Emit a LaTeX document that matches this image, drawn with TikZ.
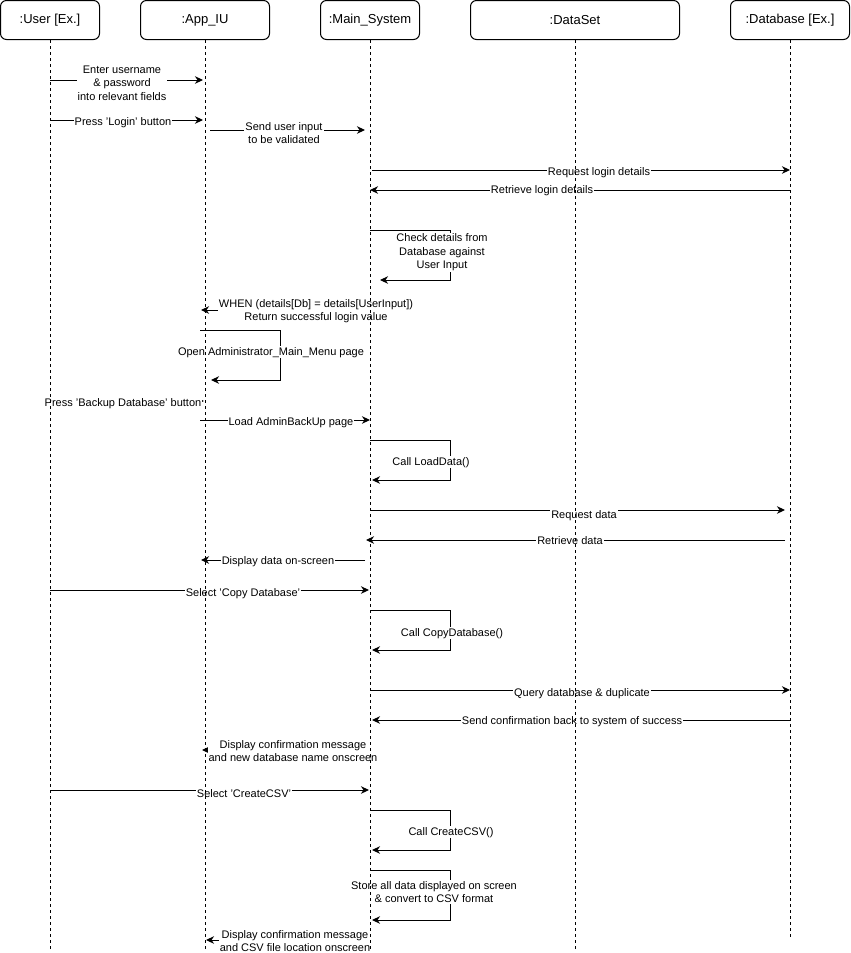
\documentclass[tikz,border=0pt]{standalone}
\usepackage{fontspec}
\setmainfont{Liberation Sans}
\usetikzlibrary{arrows.meta}
\begin{document}
\begin{tikzpicture}[x=1pt,y=-1pt,
  head/.style={draw, rounded corners=6pt, line width=1pt, minimum height=39pt, inner sep=0pt, font=\fontsize{13}{15}\selectfont},
  life/.style={line width=1pt, dash pattern=on 3pt off 3pt},
  msg/.style={line width=1pt, -{Stealth[length=8pt,width=7.5pt,inset=2.5pt]}},
  lbl/.style={fill=white, inner sep=1pt, align=center, yshift=-1.2pt, font=\fontsize{11}{13.5}\selectfont},
]
\useasboundingbox (0,0) rectangle (851,953);

% participant heads
\node[head, minimum width=99pt]  (user) at (50,20)  {:User [Ex.]};
\node[head, minimum width=129pt] (app)  at (205,20) {:App\_IU};
\node[head, minimum width=99pt]  (main) at (370,20) {:Main\_System};
\node[head, minimum width=209pt] (dset) at (575,20) {:DataSet};
\node[head, minimum width=119pt] (db)   at (790,20) {:Database [Ex.]};

% login
\draw[msg] (user |- 0,80) -- ([xshift=-2pt]app |- 0,80);
\node[lbl] (m1) at (122,82) {Enter username\\\& password\\into relevant fields};

\draw[msg] (user |- 0,120) -- ([xshift=-2pt]app |- 0,120);
\node[lbl] (m2) at (123,121) {Press 'Login' button};

\draw[msg] ([xshift=5pt]app |- 0,130) -- ([xshift=-5pt]main |- 0,130);
\node[lbl] (m3) at (284,132) {Send user input\\to be validated};

\draw[msg] ([xshift=2pt]main |- 0,170) -- (db |- 0,170);
\node[lbl] (m4) at (599,171) {Request login details};

\draw[msg] (db |- 0,190) -- (main |- 0,190);
\node[lbl] (m5) at (542,189) {Retrieve login details};

\draw[msg] (main |- 0,230) -- (450,230) -- (450,280) -- ([xshift=10pt]main |- 0,280);
\node[lbl] (m6) at (442,251) {Check details from\\Database against\\User Input};

\draw[msg] (main |- 0,310) -- ([xshift=-4pt]app |- 0,310);
\node[lbl] (m7) at (316,310) {WHEN (details[Db] = details[UserInput])\\Return successful login value};

\draw[msg] ([xshift=-5pt]app |- 0,330) -- (280,330) -- (280,380) -- ([xshift=6pt]app |- 0,380);
\node[lbl] (m8) at (271,351) {Open Administrator\_Main\_Menu page};

% backup page
\draw[msg] (user |- 0,401) -- ([xshift=-1pt]app |- 0,401);
\node[lbl] (m9) at (123,402) {Press 'Backup Database' button};

\draw[msg] ([xshift=-5pt]app |- 0,420) -- (main |- 0,420);
\node[lbl] (m10) at (291,421) {Load AdminBackUp page};

\draw[msg] (main |- 0,440) -- (450,440) -- (450,480) -- ([xshift=2pt]main |- 0,480);
\node[lbl] (m11) at (431,461) {Call LoadData()};

\draw[msg] (main |- 0,510) -- ([xshift=-5pt]db |- 0,510);
\node[lbl] (m12) at (584,514) {Request data};

\draw[msg] ([xshift=-5pt]db |- 0,540) -- ([xshift=-4pt]main |- 0,540);
\node[lbl] (m13) at (570,539) {Retrieve data};

\draw[msg] ([xshift=-5pt]main |- 0,560) -- ([xshift=-4pt]app |- 0,560);
\node[lbl] (m14) at (278,560) {Display data on-screen};

% copy database
\draw[msg] (user |- 0,590) -- ([xshift=-1pt]main |- 0,590);
\node[lbl] (m15) at (243,592) {Select 'Copy Database'};

\draw[msg] (main |- 0,610) -- (450,610) -- (450,650) -- ([xshift=2pt]main |- 0,650);
\node[lbl] (m16) at (452,632) {Call CopyDatabase()};

\draw[msg] (main |- 0,690) -- (db |- 0,690);
\node[lbl] (m17) at (582,692) {Query database \& duplicate};

\draw[msg] (db |- 0,720) -- ([xshift=2pt]main |- 0,720);
\node[lbl] (m18) at (572,720) {Send confirmation back to system of success};

\draw[msg] (main |- 0,750) -- ([xshift=-3pt]app |- 0,750);
\node[lbl] (m19) at (293,750) {Display confirmation message\\and new database name onscreen};

% create CSV
\draw[msg] (user |- 0,790) -- ([xshift=-1pt]main |- 0,790);
\node[lbl] (m20) at (244,792) {Select 'CreateCSV'};

\draw[msg] (main |- 0,810) -- (450,810) -- (450,850) -- ([xshift=2pt]main |- 0,850);
\node[lbl] (m21) at (451,831) {Call CreateCSV()};

\draw[msg] (main |- 0,870) -- (450,870) -- (450,920) -- ([xshift=2pt]main |- 0,920);
\node[lbl] (m22) at (434,891) {Store all data displayed on screen\\\& convert to CSV format};

\draw[msg] (main |- 0,940) -- ([xshift=1pt]app |- 0,940);
\node[lbl] (m23) at (295,940) {Display confirmation message\\and CSV file location onscreen};

% lifelines
\draw[life] (user.south) -- (user |- 0,950);
\draw[life] (app.south)  -- (app |- 0,950);
\draw[life] (main.south) -- (main |- 0,950);
\draw[life] (dset.south) -- (dset |- 0,950);
\draw[life] (db.south)   -- (db |- 0,937);
\end{tikzpicture}
\end{document}
